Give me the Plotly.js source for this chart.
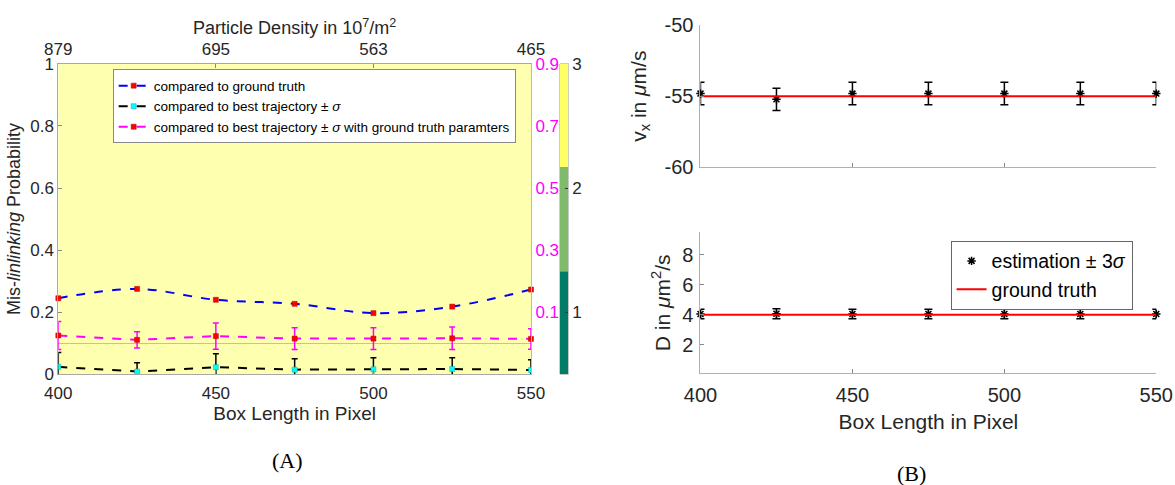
<!DOCTYPE html>
<html>
<head>
<meta charset="utf-8">
<script src="https://cdn.plot.ly/plotly-3.0.1.min.js"></script>
<style>html,body{margin:0;padding:0;background:#fff;}#chart{width:1175px;height:485px;}</style>
</head>
<body>
<div id="chart"></div>
<script>
// ---- data ----
const boxLength = [400, 425, 450, 475, 500, 525, 550];
const probVsGroundTruth = [0.245, 0.275, 0.240, 0.227, 0.197, 0.218, 0.273];
const probVsBest = [0.024, 0.009, 0.023, 0.015, 0.016, 0.017, 0.014];
const probVsBestErr = [0.046, 0.028, 0.043, 0.035, 0.037, 0.036, 0.033];
const probVsBestGTParam = [0.025, 0.011, 0.023, 0.015, 0.015, 0.016, 0.014];
const probVsBestGTParamErr = [0.045, 0.026, 0.042, 0.035, 0.035, 0.036, 0.033];
const densityTickVals = [400, 450, 500, 550];
const densityTickText = ['879', '695', '563', '465'];
const cbEdges = [0.5, 1.33, 2.17, 3];
const cbColors = ['#007D66', '#80BB6B', '#FFFF66'];
const vxEstimate = [-54.82, -55.22, -54.82, -54.82, -54.82, -54.82, -54.82];
const vxErr = [0.79, 0.78, 0.79, 0.79, 0.79, 0.79, 0.79];
const vxTruth = [-55, -55, -55, -55, -55, -55, -55];
const dEstimate = [4.05, 4.07, 4.05, 4.05, 4.05, 4.05, 4.05];
const dErr = [0.32, 0.33, 0.32, 0.32, 0.32, 0.32, 0.32];
const dTruth = [4, 4, 4, 4, 4, 4, 4];

const FONT = 'Liberation Sans, Arial, Helvetica, sans-serif';
const TXT = '#262626';

const traces = [
  {
    x: boxLength, y: probVsGroundTruth, xaxis: 'x', yaxis: 'y',
    name: 'compared to ground truth', mode: 'lines+markers', cliponaxis: false,
    line: {color: '#0000FF', width: 2, dash: 'dash', shape: 'spline'},
    marker: {symbol: 'square', size: 5, color: '#FF0000', line: {color: '#B00000', width: 0.5}}
  },
  {
    x: boxLength, y: probVsBest, xaxis: 'x', yaxis: 'y',
    name: 'compared to best trajectory ± <i>σ</i>', mode: 'lines+markers',
    line: {color: '#000000', width: 2, dash: 'dash'},
    marker: {symbol: 'square', size: 5, color: '#00FFFF', line: {color: '#00B0B0', width: 0.5}},
    error_y: {type: 'data', array: probVsBestErr, visible: true, color: '#000000', thickness: 1.5, width: 3}
  },
  {
    x: boxLength, y: probVsBestGTParam, xaxis: 'x', yaxis: 'y2',
    name: 'compared to best trajectory ± <i>σ</i> with ground truth paramters', mode: 'lines+markers', cliponaxis: false,
    line: {color: '#FF00FF', width: 2, dash: 'dash'},
    marker: {symbol: 'square', size: 5, color: '#FF0000', line: {color: '#B00000', width: 0.5}},
    error_y: {type: 'data', array: probVsBestGTParamErr, visible: true, color: '#FF00FF', thickness: 1.5, width: 3}
  },
  {
    // carrier for the top "Particle Density" axis (no visible marks)
    x: densityTickVals, y: densityTickVals.map(() => null), xaxis: 'x2', yaxis: 'y',
    mode: 'markers', showlegend: false, hoverinfo: 'skip', marker: {opacity: 0}
  },
  {
    type: 'bar', xaxis: 'x3', yaxis: 'y3', showlegend: false, hoverinfo: 'skip',
    x: cbColors.map(() => 0),
    base: cbEdges.slice(0, -1),
    y: cbEdges.slice(1).map((e, i) => e - cbEdges[i]),
    width: 1,
    marker: {color: cbColors, line: {width: 0}}
  },
  {
    x: boxLength, y: vxEstimate, xaxis: 'x4', yaxis: 'y4', showlegend: false,
    mode: 'markers', cliponaxis: false,
    marker: {symbol: 'asterisk-open', size: 7, color: '#000', line: {color: '#000', width: 1.5}},
    error_y: {type: 'data', array: vxErr, visible: true, color: '#000', thickness: 1.5, width: 4}
  },
  {
    x: boxLength, y: vxTruth, xaxis: 'x4', yaxis: 'y4', showlegend: false,
    mode: 'lines', line: {color: '#FF0000', width: 2}
  },
  {
    x: boxLength, y: dEstimate, xaxis: 'x5', yaxis: 'y5', legend: 'legend2',
    name: 'estimation ± 3<i>σ</i>', mode: 'markers', cliponaxis: false,
    marker: {symbol: 'asterisk-open', size: 7, color: '#000', line: {color: '#000', width: 1.5}},
    error_y: {type: 'data', array: dErr, visible: true, color: '#000', thickness: 1.5, width: 4}
  },
  {
    x: boxLength, y: dTruth, xaxis: 'x5', yaxis: 'y5', legend: 'legend2',
    name: 'ground truth', mode: 'lines', line: {color: '#FF0000', width: 2}
  }
];

const leftX = [0.04962, 0.45191];
const leftY = [0.22825, 0.86845];
const rightX = [0.59617, 0.98409];
const axCommon = {showgrid: false, zeroline: false, showline: true, linecolor: '#A8A8A8', linewidth: 1,
  ticks: 'inside', ticklen: 4, tickcolor: '#888', tickfont: {size: 17, color: TXT}};

const layout = {
  width: 1175, height: 485,
  margin: {l: 0, r: 0, t: 0, b: 0},
  paper_bgcolor: '#FFFFFF', plot_bgcolor: 'rgba(0,0,0,0)',
  font: {family: FONT, color: TXT, size: 17},
  showlegend: true,
  xaxis: Object.assign({}, axCommon, {domain: leftX, anchor: 'y', range: [400, 550], tickvals: densityTickVals,
    ticklabelstandoff: 3,
    title: {text: 'Box Length in Pixel', font: {size: 19, color: TXT}, standoff: 2}}),
  xaxis2: Object.assign({}, axCommon, {overlaying: 'x', side: 'top', anchor: 'y', range: [400, 550],
    tickvals: densityTickVals, ticktext: densityTickText, ticklabelstandoff: 1,
    title: {text: 'Particle Density in 10<sup>7</sup>/m<sup>2</sup>', font: {size: 18, color: TXT}, standoff: 0}}),
  yaxis: Object.assign({}, axCommon, {domain: leftY, anchor: 'x', range: [0, 1], dtick: 0.2,
    title: {text: 'Mis-<i>linlinking</i> Probability', font: {size: 18, color: TXT}, standoff: 4}}),
  yaxis2: {overlaying: 'y', side: 'right', anchor: 'x', range: [-0.1, 0.9],
    tickvals: [0.1, 0.3, 0.5, 0.7, 0.9], ticks: '', showgrid: false,
    showline: true, linecolor: '#FF88FF', linewidth: 1,
    zeroline: true, zerolinecolor: '#FF99DD', zerolinewidth: 1,
    tickfont: {size: 17, color: '#FF00FF'}, ticklabelstandoff: 0},
  xaxis3: {domain: [0.4766, 0.48366], anchor: 'y3', range: [-0.5, 0.5], showticklabels: false, ticks: '',
    showgrid: false, zeroline: false, showline: true, mirror: true, linecolor: '#999', linewidth: 0.5, fixedrange: true},
  yaxis3: {domain: leftY, anchor: 'x3', side: 'right', range: [0.5, 3], tickvals: [1, 2, 3],
    ticks: 'inside', ticklen: 3, tickcolor: '#333', showgrid: false, zeroline: false,
    showline: true, mirror: true, linecolor: '#999', linewidth: 0.5, tickfont: {size: 17, color: TXT}, fixedrange: true},
  xaxis4: Object.assign({}, axCommon, {domain: rightX, anchor: 'y4', range: [400, 550], tickvals: densityTickVals,
    showticklabels: false, linecolor: '#B0B0B0'}),
  yaxis4: Object.assign({}, axCommon, {domain: [0.65505, 0.94845], anchor: 'x4', range: [-60, -50],
    tickvals: [-60, -55, -50], ticktext: ['-60', '-55', '-50'], linecolor: '#B0B0B0',
    tickfont: {size: 20, color: TXT}, ticklabelstandoff: 2,
    title: {text: 'v<sub>x</sub> in <i>μ</i>m/s', font: {size: 21, color: TXT}, standoff: 12}}),
  xaxis5: Object.assign({}, axCommon, {domain: rightX, anchor: 'y5', range: [400, 550], tickvals: densityTickVals,
    linecolor: '#B0B0B0', tickfont: {size: 20, color: TXT}, ticklabelstandoff: 4,
    title: {text: 'Box Length in Pixel', font: {size: 21, color: TXT}, standoff: 9}}),
  yaxis5: Object.assign({}, axCommon, {domain: [0.23031, 0.52103], anchor: 'x5', range: [0.1, 9.5],
    tickvals: [2, 4, 6, 8], linecolor: '#B0B0B0', tickfont: {size: 20, color: TXT}, ticklabelstandoff: 2,
    title: {text: 'D in <i>μ</i>m<sup>2</sup>/s', font: {size: 21, color: TXT}, standoff: 6}}),
  legend: {x: 0.0959, y: 0.857, xanchor: 'left', yanchor: 'top', xref: 'paper', yref: 'paper',
    bgcolor: '#FFFFFF', bordercolor: '#888', borderwidth: 1, font: {size: 13.5, color: '#000'},
    tracegroupgap: 0, itemwidth: 30},
  legend2: {x: 0.809, y: 0.5037, xanchor: 'left', yanchor: 'top', xref: 'paper', yref: 'paper',
    bgcolor: '#FFFFFF', bordercolor: '#666', borderwidth: 1, font: {size: 19.5, color: '#000'}, itemwidth: 30},
  shapes: [
    {type: 'rect', xref: 'x domain', yref: 'y domain', x0: 0, x1: 1, y0: 0, y1: 1,
      fillcolor: '#FFFFB0', line: {width: 0}, layer: 'below'}
  ],
  annotations: [
    {text: '(A)', xref: 'paper', yref: 'paper', x: 0.2443, y: 0.0515, showarrow: false,
      xanchor: 'center', yanchor: 'middle', font: {family: 'Liberation Serif, DejaVu Serif, serif', size: 22, color: '#000'}},
    {text: '(B)', xref: 'paper', yref: 'paper', x: 0.776, y: 0.0247, showarrow: false,
      xanchor: 'center', yanchor: 'middle', font: {family: 'Liberation Serif, DejaVu Serif, serif', size: 22, color: '#000'}}
  ]
};

Plotly.newPlot('chart', traces, layout, {displayModeBar: false, staticPlot: true});
</script>
</body>
</html>
